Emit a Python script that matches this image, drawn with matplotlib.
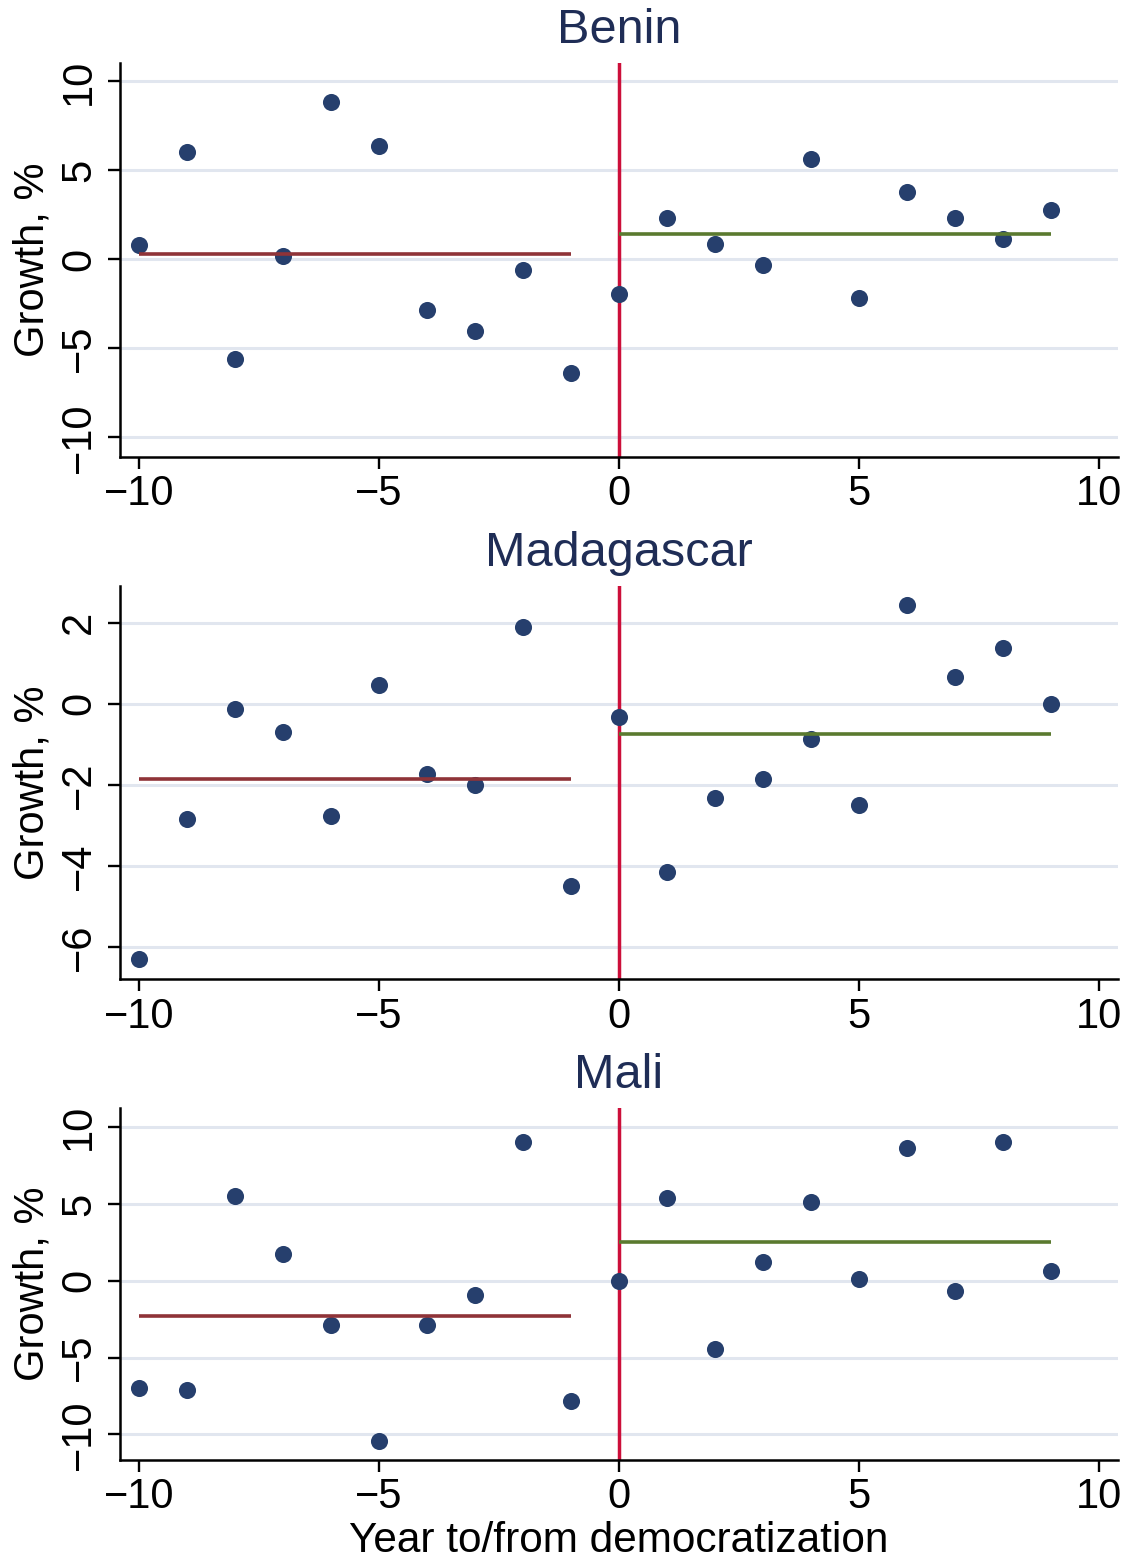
import numpy as np
import matplotlib.pyplot as plt

plt.rcParams['font.family'] = ['Liberation Sans', 'DejaVu Sans']

# data
years = np.arange(-10, 10)
countries = ["Benin", "Madagascar", "Mali"]
benin = [0.81, 6.03, -5.60, 0.17, 8.87, 6.39, -2.84, -4.02, -0.59, -6.38,
         -1.94, 2.34, 0.84, -0.30, 5.64, -2.17, 3.79, 2.34, 1.16, 2.79]
madagascar = [-6.31, -2.85, -0.13, -0.70, -2.77, 0.47, -1.74, -2.01, 1.89, -4.50,
              -0.33, -4.16, -2.32, -1.85, -0.86, -2.49, 2.45, 0.66, 1.39, 0.00]
mali = [-6.95, -7.08, 5.52, 1.74, -2.89, -10.41, -2.89, -0.93, 9.06, -7.83,
        0.00, 5.39, -4.45, 1.20, 5.13, 0.09, 8.68, -0.69, 9.06, 0.67]
growth = [benin, madagascar, mali]
yticks = [[-10, -5, 0, 5, 10], [-6, -4, -2, 0, 2], [-10, -5, 0, 5, 10]]
xticks = [-10, -5, 0, 5, 10]
ylims = [(-11.09, 11.02), (-6.80, 2.91), (-11.65, 11.24)]
xlim = (-10.39, 10.39)
ylabel = "Growth, %"
xlabel = "Year to/from democratization"

# layout in pixels (top, bottom) of each panel
W, H = 1130, 1560
boxes = [(63.3, 456.7), (586.0, 979.3), (1108.3, 1459.7)]
left, right = 120, 1117.7

dot_color = '#263f6d'
title_color = '#1f2d56'
grid_color = '#e1e6ef'
vline_color = '#cc0f3a'
pre_color = '#8f3338'
post_color = '#5a7a2f'

fig = plt.figure(figsize=(W / 100, H / 100), dpi=100)

for name, vals, yt, yl, (top, bot) in zip(countries, growth, yticks, ylims, boxes):
    ax = fig.add_axes([left / W, 1 - bot / H, (right - left) / W, (bot - top) / H])
    vals = np.array(vals)

    ax.axvline(0, color=vline_color, lw=2.5, zorder=2)
    ax.plot(years, vals, 'o', ms=12.3, color=dot_color, mew=0, zorder=3)

    # mean growth before / after democratization
    pre = years < 0
    post = ~pre
    ax.hlines(vals[pre].mean(), years[pre].min(), years[pre].max(),
              color=pre_color, lw=2.6, zorder=4)
    ax.hlines(vals[post].mean(), years[post].min(), years[post].max(),
              color=post_color, lw=2.6, zorder=4)

    ax.set_xlim(*xlim)
    ax.set_ylim(*yl)
    ax.set_xticks(xticks)
    ax.set_yticks(yt)
    ax.grid(axis='y', color=grid_color, lw=2.2, zorder=0)
    ax.set_axisbelow(True)

    for s in ['top', 'right']:
        ax.spines[s].set_visible(False)
    for s in ['left', 'bottom']:
        ax.spines[s].set_linewidth(1.8)

    ax.tick_params(axis='both', length=8.5, width=1.7, labelsize=30)
    ax.tick_params(axis='x', pad=4.3)
    ax.tick_params(axis='y', pad=6.5, labelrotation=90)
    for lbl in ax.get_yticklabels():
        lbl.set_va('center')

    ax.set_title(name, fontsize=35, color=title_color, pad=14.4)
    ax.set_ylabel(ylabel, fontsize=30)
    ax.yaxis.set_label_coords(-0.068, 0.5)

fig.text((left + right) / 2 / W, 1 - 1552 / H, xlabel, fontsize=30.5,
         ha='center', va='baseline')

plt.savefig('out.png', dpi=100)
plt.close('all')
